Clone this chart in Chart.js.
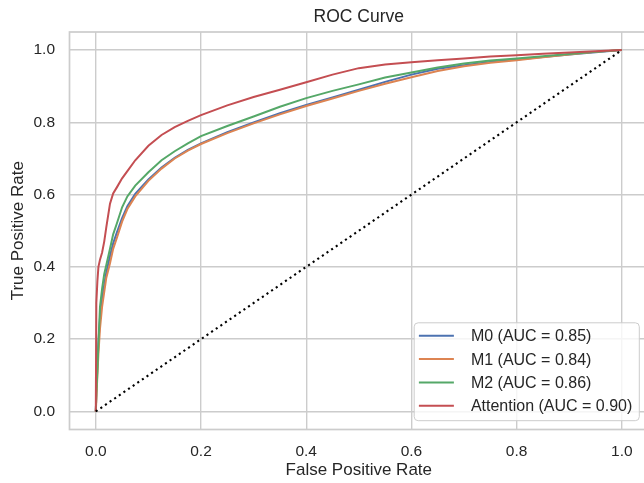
<!DOCTYPE html>
<html>
<head>
<meta charset="utf-8">
<title>ROC Curve</title>
<script src="https://cdn.jsdelivr.net/npm/chart.js@4.4.1/dist/chart.umd.min.js"></script>
<style>
    html, body { margin: 0; padding: 0; background: #fff; overflow: hidden; }
    #roc { display: block; }
</style>
</head>
<body>
<canvas id="roc" width="652" height="483"></canvas>
<script>
// false positive rate, shared by the four curves
const fpr = [0, 0.001, 0.003, 0.005, 0.008, 0.012, 0.016, 0.02, 0.027, 0.033, 0.04, 0.05, 0.06, 0.075,
    0.1, 0.125, 0.15, 0.175, 0.2, 0.25, 0.3, 0.35, 0.4, 0.45, 0.5, 0.55, 0.6, 0.65, 0.7, 0.75, 0.8, 0.85, 0.9, 0.95, 1.0];

// true positive rate of each model
const tprM0 = [0, 0.05, 0.13, 0.19, 0.26, 0.31, 0.35, 0.385, 0.43, 0.465, 0.495, 0.535, 0.568, 0.602,
    0.642, 0.675, 0.702, 0.724, 0.742, 0.773, 0.800, 0.825, 0.848, 0.869, 0.890, 0.912, 0.932, 0.948, 0.958, 0.967, 0.974, 0.981, 0.988, 0.994, 1.0];
const tprM1 = [0, 0.03, 0.10, 0.16, 0.23, 0.29, 0.33, 0.37, 0.41, 0.45, 0.48, 0.525, 0.56, 0.595,
    0.638, 0.672, 0.700, 0.722, 0.740, 0.770, 0.797, 0.822, 0.845, 0.866, 0.887, 0.907, 0.925, 0.942, 0.955, 0.965, 0.972, 0.980, 0.988, 0.995, 1.0];
const tprM2 = [0, 0.05, 0.11, 0.19, 0.29, 0.34, 0.38, 0.405, 0.45, 0.49, 0.52, 0.565, 0.595, 0.625,
    0.662, 0.695, 0.720, 0.742, 0.762, 0.790, 0.816, 0.843, 0.867, 0.887, 0.905, 0.924, 0.938, 0.952, 0.963, 0.971, 0.977, 0.983, 0.989, 0.995, 1.0];
const tprAttention = [0, 0.30, 0.36, 0.40, 0.42, 0.44, 0.47, 0.51, 0.575, 0.603, 0.62, 0.645, 0.665, 0.695,
    0.735, 0.765, 0.787, 0.804, 0.820, 0.847, 0.870, 0.890, 0.911, 0.932, 0.950, 0.960, 0.966, 0.972, 0.977, 0.982, 0.986, 0.990, 0.993, 0.997, 1.0];

const seriesLabels = ['M0 (AUC = 0.85)', 'M1 (AUC = 0.84)', 'M2 (AUC = 0.86)', 'Attention (AUC = 0.90)'];

// chance line
const chanceX = [0, 1];
const chanceY = [0, 1];

const tickValues = [0, 0.2, 0.4, 0.6, 0.8, 1.0];

const FONT = "'Liberation Sans', Arial, sans-serif";
const TEXT = '#262626';
const GRID = '#cccccc';
const palette = ['#4c72b0', '#dd8452', '#55a868', '#c44e52'];

function toPoints(xs, ys) {
    return xs.map((x, i) => ({ x: x, y: ys[i] }));
}

function curve(label, ys, i) {
    return {
        label: label,
        data: toPoints(fpr, ys),
        borderColor: palette[i],
        borderWidth: 2,
        pointRadius: 0,
        tension: 0,
        fill: false,
        order: 4 - i,
    };
}

// axes box drawn on all four sides
const frame = {
    id: 'frame',
    beforeDatasetsDraw(chart) {
        const { ctx, chartArea: a } = chart;
        ctx.save();
        ctx.strokeStyle = GRID;
        ctx.lineWidth = 1.7;
        ctx.strokeRect(a.left, a.top, a.right - a.left, a.bottom - a.top);
        ctx.restore();
    }
};

// legend box in the lower right corner of the plot
const boxLegend = {
    id: 'boxLegend',
    afterDraw(chart) {
        const { ctx, chartArea: a } = chart;
        const sets = chart.data.datasets.filter(d => d.label);
        ctx.save();
        ctx.font = `16px ${FONT}`;
        const textW = Math.max(...sets.map(d => ctx.measureText(d.label).width));
        const rowH = 23.3;
        const w = 56.7 + textW + 7;
        const h = 28 + rowH * (sets.length - 1);
        const x = a.right - 8.8 - w;
        const y = a.bottom - 8.8 - h;

        ctx.beginPath();
        ctx.roundRect(x, y, w, h, 4);
        ctx.fillStyle = 'rgba(255, 255, 255, 0.8)';
        ctx.fill();
        ctx.strokeStyle = GRID;
        ctx.lineWidth = 1;
        ctx.stroke();

        sets.forEach((d, i) => {
            const cy = y + 14 + i * rowH;
            ctx.strokeStyle = d.borderColor;
            ctx.lineWidth = 2;
            ctx.beginPath();
            ctx.moveTo(x + 4.7, cy - 1);
            ctx.lineTo(x + 39.7, cy - 1);
            ctx.stroke();
            ctx.fillStyle = TEXT;
            ctx.textBaseline = 'middle';
            ctx.textAlign = 'left';
            ctx.fillText(d.label, x + 56.7, cy);
        });
        ctx.restore();
    }
};

function axis(title, tickPad, titlePad, fit) {
    return {
        type: 'linear',
        min: -0.05,
        max: 1.05,
        afterBuildTicks: s => { s.ticks = tickValues.map(v => ({ value: v })); },
        afterFit: fit,
        grid: { color: GRID, lineWidth: 1.4, drawTicks: false },
        border: { display: false },
        ticks: {
            padding: tickPad,
            color: TEXT,
            font: { family: FONT, size: 15.5 },
            callback: v => v.toFixed(1),
        },
        title: {
            display: true,
            text: title,
            color: TEXT,
            font: { family: FONT, size: 17 },
            padding: titlePad,
        },
    };
}

new Chart(document.getElementById('roc'), {
    type: 'line',
    data: {
        datasets: [
            curve(seriesLabels[0], tprM0, 0),
            curve(seriesLabels[1], tprM1, 1),
            curve(seriesLabels[2], tprM2, 2),
            curve(seriesLabels[3], tprAttention, 3),
            {
                label: '',
                data: toPoints(chanceX, chanceY),
                borderColor: '#000000',
                borderWidth: 2.1,
                borderDash: [2.1, 3.5],
                pointRadius: 0,
                fill: false,
                order: 0,
            },
        ]
    },
    options: {
        responsive: false,
        animation: false,
        devicePixelRatio: 1,
        layout: { padding: { left: 0, right: 3.9, top: 0, bottom: 0 } },
        plugins: {
            legend: { display: false },
            tooltip: { enabled: false },
            title: {
                display: true,
                fullSize: false,
                text: 'ROC Curve',
                color: TEXT,
                font: { family: FONT, size: 17.5, weight: 'normal' },
                padding: { top: 6.7, bottom: 4.3 },
            },
        },
        scales: {
            x: axis('False Positive Rate', 12.7, { top: 0, bottom: 2 }, s => { s.height = 53.5; }),
            y: axis('True Positive Rate', 14.5, { top: 8, bottom: 0 }, s => { s.width = 69.5; }),
        },
    },
    plugins: [frame, boxLegend],
});
</script>
</body>
</html>
